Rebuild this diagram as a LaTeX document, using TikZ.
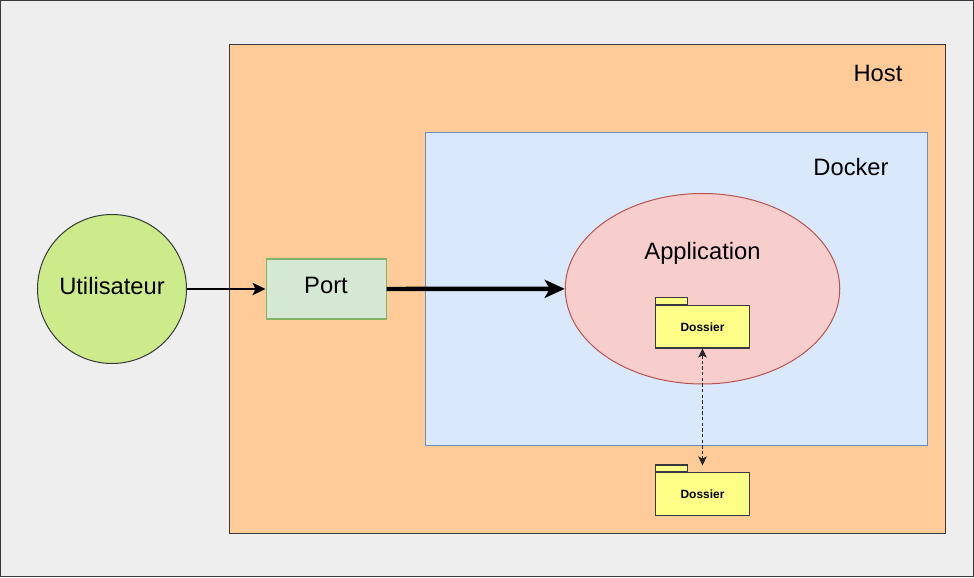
\documentclass[tikz,border=0pt]{standalone}
\usepackage{fontspec}
\setmainfont{Liberation Sans}
\usetikzlibrary{arrows.meta, shapes.geometric}
\definecolor{bgfill}{HTML}{EEEEEE}
\definecolor{darkline}{HTML}{36393D}
\definecolor{hostfill}{HTML}{FFCC99}
\definecolor{dockerfill}{HTML}{DAE8FC}
\definecolor{dockerline}{HTML}{6C8EBF}
\definecolor{appfill}{HTML}{F8CECC}
\definecolor{appline}{HTML}{B85450}
\definecolor{userfill}{HTML}{CDEB8B}
\definecolor{portfill}{HTML}{D5E8D4}
\definecolor{portline}{HTML}{82B366}
\definecolor{folderfill}{HTML}{FFFF88}
\tikzset{
  zonebox/.style={
    rectangle, line width=0.57pt, inner sep=0pt,
    draw=#1
  },
  titletext/.style={
    inner sep=0pt, font=\fontsize{13.5}{16}\selectfont
  },
  folderbox/.style={
    rectangle, line width=0.57pt,
    minimum width=1.88cm, minimum height=0.85cm, inner sep=0pt,
    font=\fontsize{6.8}{8}\selectfont\bfseries,
    draw=darkline, fill=folderfill
  },
  foldertab/.style={line width=0.57pt, draw=darkline, fill=folderfill},
  userarrow/.style={-{Stealth[length=0.26cm, width=0.25cm, inset=0.06cm]}, line width=0.85pt, color=black},
  portarrow/.style={-{Stealth[length=0.4cm, width=0.36cm, inset=0.1cm]}, line width=2.5pt, color=black},
  sharearrow/.style={{Stealth[length=0.18cm, width=0.17cm, inset=0.04cm]}-{Stealth[length=0.18cm, width=0.17cm, inset=0.04cm]},
    line width=0.57pt, dash pattern=on 1.9pt off 1.3pt, color=black!85},
}
\begin{document}
\begin{tikzpicture}
      \useasboundingbox (0,0) rectangle (19.48,11.54);
      \node[zonebox=darkline, fill=bgfill, minimum width=19.46cm, minimum height=11.52cm] (page) at (9.74,5.77) {};
      \node[zonebox=darkline, fill=hostfill, minimum width=14.32cm, minimum height=9.77cm] (host) at (11.74,5.765) {};
      \node[zonebox=dockerline, fill=dockerfill, minimum width=10.04cm, minimum height=6.25cm] (docker) at (13.52,5.76) {};
      \node[zonebox=appline, fill=appfill, ellipse, minimum width=5.49cm, minimum height=3.81cm] (application) at (14.05,5.765) {};
      \node[zonebox=darkline, fill=userfill, circle, minimum width=2.98cm, font=\fontsize{13.5}{16}\selectfont,
            text height=0.44cm, text depth=0.2cm] (user) at (2.24,5.76) {Utilisateur};
      \node[zonebox=portline, fill=portfill, minimum width=2.4cm, minimum height=1.2cm, font=\fontsize{13.5}{16}\selectfont,
            text height=0.38cm, text depth=0.2cm] (port) at (6.52,5.76) {Port};
      \node[titletext] (hostlabel) at (17.56,10.07) {Host};
      \node[titletext] (dockerlabel) at (17.02,8.2) {Docker};
      \node[titletext] (applabel) at (14.05,6.48) {Application};

      % folders, the tab sits on top of the body
      \node[folderbox] (appfolder) at (14.05,5.005) {Dossier};
      \node[folderbox] (hostfolder) at (14.05,1.665) {Dossier};
      \draw[foldertab] (appfolder.north west) rectangle ++(0.65,0.14);
      \draw[foldertab] (hostfolder.north west) rectangle ++(0.65,0.14);
      \coordinate (hosttop) at (14.05,2.23);

      \draw[userarrow] (user) -- (port);
      \draw[portarrow] (port) -- (application);
      \draw[sharearrow] (appfolder) -- (hosttop);
    \end{tikzpicture}
\end{document}
